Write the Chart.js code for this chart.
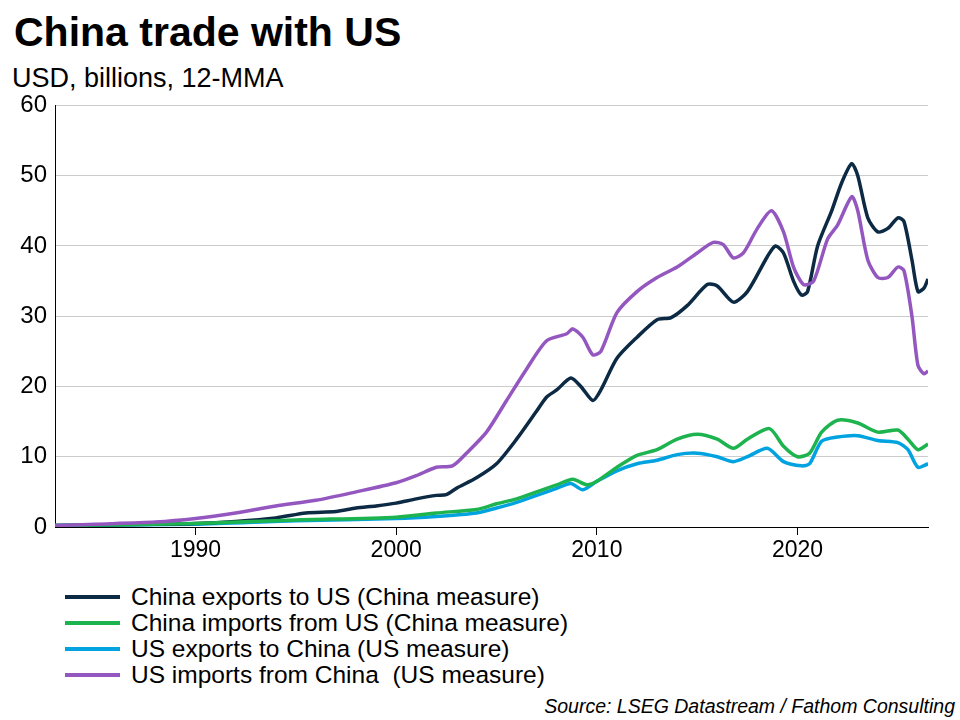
<!DOCTYPE html>
<html><head><meta charset="utf-8">
<script src="https://cdn.jsdelivr.net/npm/chart.js@4"></script>
<style>
body{margin:0;width:960px;height:720px;background:#fff;font-family:"Liberation Sans",Arial,sans-serif;color:#000;position:relative;overflow:hidden}
#title{position:absolute;left:14px;top:8px;font-size:41px;font-weight:bold;line-height:48px}
#sub{position:absolute;left:12px;top:62px;font-size:27px;line-height:32px}
#wrap{position:absolute;left:0;top:83px;width:940px;height:477px}
#legend{position:absolute;left:65px;top:584px;font-size:24.5px}
#legend div{height:26px;display:flex;align-items:center;white-space:pre}
#legend span{display:inline-block;width:55px;height:4px;margin-right:11px}
#src{position:absolute;right:5px;top:695px;font-size:19.5px;font-style:italic}
</style></head><body>
<div id="title">China trade with US</div>
<div id="sub">USD, billions, 12-MMA</div>
<div id="wrap"><canvas id="c"></canvas></div>
<div id="legend"></div>
<div id="src">Source: LSEG Datastream / Fathom Consulting</div>
<script>
const labels = ['China exports to US (China measure)','China imports from US (China measure)','US exports to China (US measure)','US imports from China  (US measure)'];
const colors = ['#0c2a44','#1db34e','#00a3e0','#9457c0'];
const xTicks = [1990,2000,2010,2020];
const yTicks = [0,10,20,30,40,50,60];

const chinaExports = [[1983,0.2],[1985,0.3],[1988,0.4],[1990,0.5],[1992,0.8],[1994,1.3],[1995.5,2.0],[1997,2.2],[1998,2.7],[1999,3.0],[2000,3.4],[2001,4.0],[2002,4.5],[2002.5,4.6],[2003,5.5],[2004,7.0],[2005,9.0],[2006,12.5],[2007,16.5],[2007.5,18.5],[2008,19.5],[2008.7,21.2],[2009.2,20],[2009.8,18.0],[2010.2,19.5],[2011,24],[2012,27],[2013,29.5],[2013.7,29.8],[2014.5,31.5],[2015.5,34.5],[2016,34.3],[2016.8,32.0],[2017.5,33.5],[2018.5,38.5],[2018.9,40],[2019.3,39],[2019.8,35],[2020.2,33],[2020.5,33.5],[2021,40],[2021.7,45],[2022.2,49],[2022.7,51.7],[2023,50],[2023.5,44],[2024,42],[2024.5,42.5],[2025,44],[2025.3,43.5],[2025.7,38],[2026,33.5],[2026.3,34],[2026.5,35.3]];
const chinaImports = [[1983,0.2],[1990,0.5],[1995,1.0],[2000,1.4],[2002,2.0],[2004,2.5],[2005,3.3],[2006,4.0],[2007,5.0],[2008,6.0],[2008.8,6.8],[2009.5,6.0],[2010,6.5],[2011,8.5],[2012,10.2],[2013,11.0],[2014,12.5],[2015,13.2],[2016,12.5],[2016.8,11.2],[2017.5,12.5],[2018.6,14],[2019.3,11.5],[2020,10.0],[2020.6,10.5],[2021.2,13.5],[2022,15.2],[2023,14.8],[2024,13.5],[2025,13.8],[2025.5,12.5],[2026,11.0],[2026.5,11.8]];
const usExports = [[1983,0.2],[1990,0.4],[1995,0.9],[2000,1.2],[2002,1.5],[2004,2.0],[2005,2.7],[2006,3.5],[2007,4.5],[2008,5.5],[2008.7,6.2],[2009.3,5.3],[2010,6.5],[2011,8.0],[2012,9.0],[2013,9.5],[2014,10.3],[2015,10.5],[2016,10.0],[2016.8,9.3],[2017.5,10.0],[2018.5,11.2],[2019.3,9.3],[2020.2,8.7],[2020.6,9.0],[2021.2,12.2],[2022,12.8],[2023,13.0],[2024,12.3],[2025,12.0],[2025.5,11],[2026,8.5],[2026.5,9.0]];
const usImports = [[1983,0.2],[1985,0.4],[1988,0.7],[1990,1.2],[1992,2.0],[1994,3.0],[1996,3.8],[1998,5.0],[2000,6.3],[2001,7.3],[2002,8.5],[2002.8,8.7],[2003.5,10.5],[2004.5,13.5],[2005.5,18],[2006.5,22.5],[2007.5,26.5],[2008.5,27.5],[2008.8,28.2],[2009.3,27],[2009.8,24.5],[2010.2,25],[2011,30.5],[2012,33.5],[2013,35.5],[2014,37],[2015,39],[2015.8,40.5],[2016.3,40.2],[2016.8,38.3],[2017.3,39],[2018,42.5],[2018.7,45],[2019.3,42],[2019.8,37],[2020.3,34.5],[2020.8,35],[2021.5,41],[2022,43],[2022.7,47],[2023,45],[2023.5,38],[2024,35.5],[2024.5,35.5],[2025,37],[2025.3,36.5],[2025.7,30],[2026,23],[2026.3,21.8],[2026.5,22.2]];

const series = [chinaExports, chinaImports, usExports, usImports];
const order = [2, 1, 3, 0]; // draw order: navy on top

const leg = document.getElementById('legend');
labels.forEach((l,i)=>{
  const d=document.createElement('div');
  d.innerHTML='<span style="background:'+colors[i]+'"></span>'+l;
  leg.appendChild(d);
});

new Chart(document.getElementById('c'), {
  type: 'line',
  data: {
    datasets: series.map((s,i)=>({
      label: labels[i],
      data: s.map(p=>({x:p[0],y:p[1]})),
      borderColor: colors[i],
      borderWidth: 3.5,
      pointRadius: 0,
      tension: 0.25,
      order: order[i]
    }))
  },
  options: {
    responsive: true, maintainAspectRatio: false, animation: false,
    layout: {padding: {top: 9, right: 12}},
    plugins: {legend: {display: false}, tooltip: {enabled: false}},
    scales: {
      x: {
        type: 'linear', min: 1983, max: 2026.5,
        afterBuildTicks: s => { s.ticks = xTicks.map(v=>({value:v})); },
        afterFit: s => { s.height = 33; },
        ticks: {color:'#000', font:{size:23, family:'"Liberation Sans"'}, padding: 2, callback: v => String(v)},
        grid: {drawOnChartArea:false, color:'#000', tickLength:8, lineWidth:1},
        border: {color:'#000', width:1}
      },
      y: {
        min: 0, max: 60,
        afterBuildTicks: s => { s.ticks = yTicks.map(v=>({value:v})); },
        afterFit: s => { s.width = 55; },
        ticks: {color:'#000', font:{size:24, family:'"Liberation Sans"'}, padding: 8},
        grid: {color:'#cccccc', drawTicks:false},
        border: {color:'#000', width:1}
      }
    }
  }
});
</script>
</body></html>
